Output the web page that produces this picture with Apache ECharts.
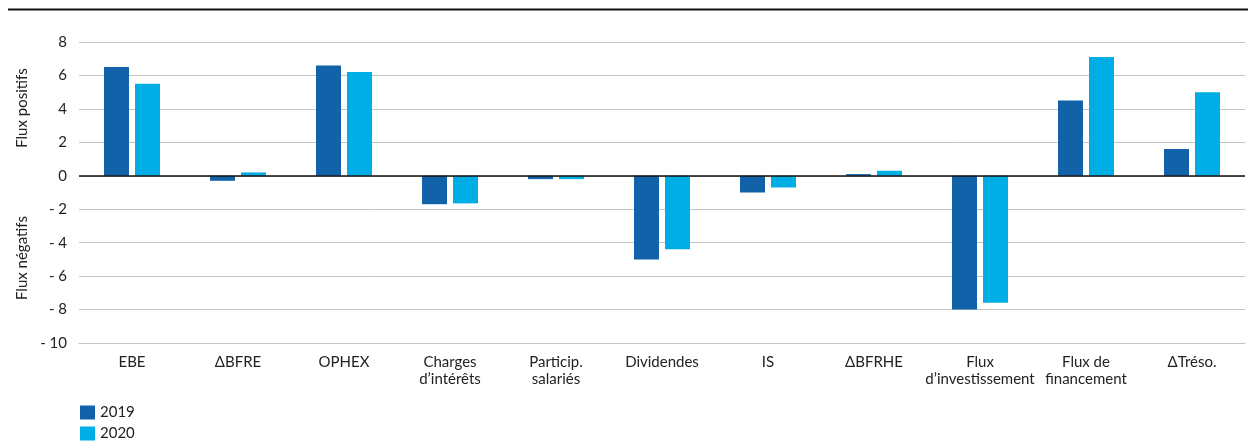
<!DOCTYPE html>
<html><head><meta charset="utf-8">
<script src="https://cdn.jsdelivr.net/npm/echarts@6/dist/echarts.min.js"></script>
<style>html,body{margin:0;padding:0;background:#fff}#c{width:1248px;height:443px}</style>
</head><body><div id="c"></div>
<script>
const categories = ['EBE', 'ΔBFRE', 'OPHEX', 'Charges\nd’intérêts', 'Particip.\nsalariés', 'Dividendes', 'IS', 'ΔBFRHE', 'Flux\nd’investissement', 'Flux de\nfinancement', 'ΔTréso.'];
const values2019 = [6.5, -0.3, 6.6, -1.7, -0.2, -5.0, -1.0, 0.1, -8.0, 4.5, 1.6];
const values2020 = [5.5, 0.2, 6.2, -1.65, -0.2, -4.4, -0.7, 0.3, -7.6, 7.1, 5.0];
const seriesNames = ['2019', '2020'];
const yTitles = ['Flux positifs', 'Flux négatifs'];

const FONT = 'Lato';
const chart = echarts.init(document.getElementById('c'), null, {renderer: 'canvas'});
chart.setOption({
  animation: false,
  textStyle: {fontFamily: FONT},
  grid: {left: 79, right: 3, top: 42, bottom: 100},
  legend: {
    orient: 'vertical', left: 80, top: 405, padding: 0, itemWidth: 15, itemHeight: 14, itemGap: 6,
    icon: 'rect', textStyle: {fontSize: 15, color: '#222', fontFamily: FONT},
    data: seriesNames
  },
  xAxis: {
    type: 'category', data: categories,
    axisLine: {onZero: false, lineStyle: {color: '#c4c4c4', width: 1}},
    axisTick: {show: false},
    axisLabel: {interval: 0, color: '#222', fontSize: 15, lineHeight: 17, margin: 11, fontFamily: FONT}
  },
  yAxis: {
    type: 'value', min: -10, max: 8, interval: 2,
    axisLine: {show: false}, axisTick: {show: false},
    splitLine: {lineStyle: {color: '#c4c4c4', width: 1}},
    axisLabel: {color: '#222', fontSize: 15, margin: 12, fontFamily: FONT,
      formatter: v => v < 0 ? '- ' + Math.abs(v) : String(v)}
  },
  series: [
    {name: seriesNames[0], type: 'bar', data: values2019, barWidth: 25, barGap: '24%',
      itemStyle: {color: '#1262AA'},
      markLine: {silent: true, symbol: 'none', label: {show: false},
        lineStyle: {color: '#111', width: 1.5, type: 'solid'}, data: [{yAxis: 0}]}},
    {name: seriesNames[1], type: 'bar', data: values2020, barWidth: 25,
      itemStyle: {color: '#00AEE6'}}
  ],
  graphic: [
    {type: 'line', shape: {x1: 8, y1: 9.5, x2: 1248, y2: 9.5}, style: {stroke: '#111', lineWidth: 2}},
    {type: 'text', x: 22, y: 108, rotation: Math.PI / 2,
      style: {text: yTitles[0], fontSize: 15, fill: '#222', fontFamily: FONT, align: 'center', verticalAlign: 'middle'}},
    {type: 'text', x: 22, y: 258, rotation: Math.PI / 2,
      style: {text: yTitles[1], fontSize: 15, fill: '#222', fontFamily: FONT, align: 'center', verticalAlign: 'middle'}}
  ]
});
</script></body></html>
